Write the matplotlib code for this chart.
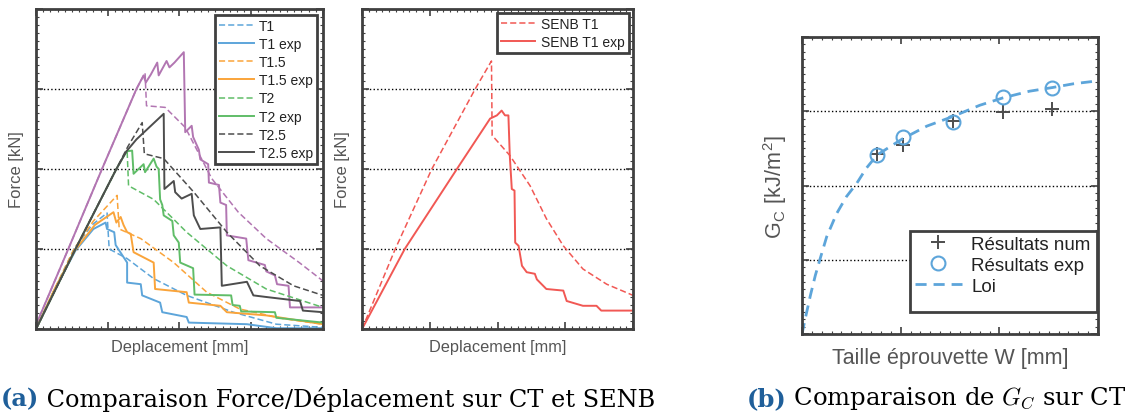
import numpy as np
import matplotlib
matplotlib.use('Agg')
import matplotlib.pyplot as plt
from matplotlib.ticker import MultipleLocator, NullFormatter
from matplotlib.patches import Rectangle

plt.rcParams['font.family'] = ['Liberation Sans', 'DejaVu Sans']
plt.rcParams['mathtext.fontset'] = 'cm'

# ---- panel (a) left: CT specimens, force vs displacement (arbitrary units, no tick labels)
t1_x = [0, 0.26, 0.53, 0.78, 0.99, 1.02, 1.27, 1.64, 2.10, 2.75, 3.35, 4.0]
t1_y = [0, 0.50, 1.00, 1.30, 1.45, 1.00, 0.88, 0.63, 0.42, 0.21, 0.06, 0.02]
t1e_x = [0, 0.26, 0.55, 0.80, 0.97, 0.99, 1.09, 1.11, 1.27, 1.27, 1.46, 1.48, 1.73, 1.76, 2.10, 2.13,
         2.94, 3.35, 4.0]
t1e_y = [0, 0.49, 0.98, 1.25, 1.33, 1.25, 1.21, 1.05, 0.83, 0.58, 0.56, 0.42, 0.33, 0.21, 0.15, 0.08,
         0.06, 0.01, 0.01]

t15_x = [0, 0.26, 0.53, 0.80, 1.13, 1.16, 1.46, 1.92, 2.38, 2.84, 3.44, 4.0]
t15_y = [0, 0.50, 1.00, 1.35, 1.67, 1.25, 1.13, 0.83, 0.46, 0.25, 0.13, 0.06]
t15e_x = [0, 0.26, 0.54, 0.82, 1.08, 1.12, 1.18, 1.22, 1.27, 1.32, 1.36, 1.64, 1.66, 2.10, 2.13,
          2.57, 2.66, 3.21, 4.0]
t15e_y = [0, 0.50, 0.98, 1.30, 1.46, 1.33, 1.40, 1.30, 1.21, 1.19, 0.96, 0.83, 0.50, 0.46, 0.33,
          0.29, 0.21, 0.17, 0.06]

t2_x = [0, 0.55, 1.12, 1.27, 1.29, 1.64, 2.10, 2.66, 3.21, 4.0]
t2_y = [0, 1.00, 2.00, 2.23, 1.79, 1.62, 1.21, 0.79, 0.50, 0.27]
t2e_x = [0, 0.55, 1.12, 1.26, 1.34, 1.36, 1.50, 1.52, 1.64, 1.68, 1.71, 1.73, 1.76, 1.78, 1.90, 1.92,
         1.99, 2.01, 2.19, 2.21, 2.72, 2.74, 2.84, 2.86, 3.33, 3.35, 4.0]
t2e_y = [0, 1.00, 2.00, 2.22, 2.23, 1.94, 2.06, 1.96, 2.13, 2.03, 2.00, 1.62, 1.55, 1.42, 1.35, 1.17,
         1.08, 0.83, 0.76, 0.43, 0.42, 0.30, 0.29, 0.22, 0.21, 0.14, 0.08]

t25_x = [0, 0.55, 1.12, 1.28, 1.48, 1.51, 1.78, 2.20, 2.66, 3.12, 3.59, 4.0]
t25_y = [0, 1.00, 2.00, 2.28, 2.58, 2.19, 2.13, 1.71, 1.21, 0.79, 0.54, 0.42]
t25e_x = [0, 0.55, 1.12, 1.26, 1.40, 1.78, 1.79, 1.92, 1.94, 2.03, 2.17, 2.20, 2.29, 2.57, 2.59,
          2.94, 3.03, 3.21, 3.68, 3.72, 4.0]
t25e_y = [0, 1.00, 2.00, 2.22, 2.37, 2.69, 1.75, 1.85, 1.71, 1.63, 1.69, 1.42, 1.25, 1.27, 0.54,
          0.59, 0.42, 0.40, 0.35, 0.23, 0.21]

t3_x = [0, 0.45, 0.92, 1.40, 1.52, 1.54, 1.80, 2.08, 2.45, 2.82, 3.21, 3.67, 4.0]
t3_y = [0.05, 1.00, 2.00, 3.00, 3.20, 2.79, 2.77, 2.52, 1.88, 1.46, 1.13, 0.83, 0.60]
t3e_x = [0, 0.45, 0.92, 1.40, 1.50, 1.53, 1.60, 1.69, 1.71, 1.82, 1.86, 1.93, 2.06, 2.08, 2.17,
         2.19, 2.27, 2.29, 2.40, 2.41, 2.55, 2.57, 2.65, 2.66, 2.93, 2.96, 3.19, 3.21, 3.33, 3.36,
         3.52, 3.54, 4.0]
t3e_y = [0.05, 1.00, 2.00, 3.00, 3.17, 3.08, 3.18, 3.33, 3.17, 3.35, 3.27, 3.33, 3.46, 2.46, 2.54,
         2.40, 2.24, 2.12, 2.06, 1.83, 1.80, 1.58, 1.55, 1.17, 1.13, 0.86, 0.80, 0.72, 0.67, 0.56,
         0.54, 0.27, 0.27]

# ---- panel (a) right: SENB T1
senb_x = [0, 0.49, 1.03, 1.67, 1.91, 1.92, 2.18, 2.48, 2.72, 2.97, 3.26, 3.61, 4.0]
senb_y = [0, 1.00, 2.00, 3.00, 3.35, 2.42, 2.17, 1.79, 1.38, 1.04, 0.75, 0.56, 0.42]
senbe_x = [0, 0.63, 1.40, 1.89, 1.99, 2.06, 2.11, 2.16, 2.18, 2.21, 2.25, 2.26, 2.31, 2.36, 2.43,
           2.55, 2.58, 2.72, 2.97, 3.02, 3.26, 3.46, 3.53, 4.0]
senbe_y = [0, 1.00, 2.00, 2.63, 2.67, 2.73, 2.67, 2.67, 2.17, 1.75, 1.73, 1.08, 1.04, 0.79, 0.71,
           0.69, 0.62, 0.50, 0.48, 0.35, 0.29, 0.29, 0.23, 0.23]

# ---- panel (b): Gc vs specimen size
W = [15.2, 20.4, 30.6, 40.7, 50.6]
gc_num = [2.42, 2.55, 2.87, 2.99, 3.03]
gc_exp = [2.41, 2.65, 2.86, 3.19, 3.31]
loi_w = [0, 0.7, 1.7, 2.7, 3.7, 5.0, 7.0, 9.0, 11.1, 13.0, 15.2, 18.0, 20.4, 25.3, 30.6, 36.0,
         40.7, 46.1, 50.8, 55.0, 60.0]
loi_gc = [0, 0.22, 0.52, 0.79, 1.02, 1.31, 1.62, 1.85, 2.03, 2.23, 2.41, 2.53, 2.63, 2.80, 2.93,
          3.08, 3.18, 3.27, 3.32, 3.37, 3.41]

BLUE = '#5DA5DA'
ORANGE = '#FAA43A'
GREEN = '#60BD68'
GREY = '#4D4D4D'
PURPLE = '#B276B2'
RED = '#F15854'
FRAME = '#404040'
LABEL = '#555555'
DASH = (0, (4, 2))


def style_axes(ax, xmax, ymax, xmajor, xminor, yminor):
    ax.set_xlim(0, xmax)
    ax.set_ylim(0, ymax)
    ax.xaxis.set_major_locator(MultipleLocator(xmajor))
    ax.xaxis.set_minor_locator(MultipleLocator(xminor))
    ax.yaxis.set_major_locator(MultipleLocator(1))
    ax.yaxis.set_minor_locator(MultipleLocator(yminor))
    ax.xaxis.set_major_formatter(NullFormatter())
    ax.yaxis.set_major_formatter(NullFormatter())
    ax.tick_params(which='both', direction='in', top=True, right=True, color=FRAME)
    ax.tick_params(which='major', length=5, width=1.2)
    ax.tick_params(which='minor', length=2.5, width=0.8)
    ax.yaxis.grid(True, linestyle=':', color='black', linewidth=1.0)
    for s in ax.spines.values():
        s.set_linewidth(2.0)
        s.set_color(FRAME)


def style_legend(leg):
    fr = leg.get_frame()
    fr.set_edgecolor(FRAME)
    fr.set_linewidth(2.0)
    fr.set_alpha(1)
    for t in leg.get_texts():
        t.set_color('#222222')


fig = plt.figure(figsize=(11.36, 4.14), dpi=100)

# ---- CT
ax1 = fig.add_axes([0.0317, 0.2029, 0.2526, 0.773])
ax1.plot(t3_x, t3_y, color=PURPLE, lw=1.1, linestyle=DASH)
ax1.plot(t3e_x, t3e_y, color=PURPLE, lw=1.4)
ax1.plot(t1_x, t1_y, color=BLUE, lw=1.1, linestyle=DASH, label='T1')
ax1.plot(t1e_x, t1e_y, color=BLUE, lw=1.4, label='T1 exp')
ax1.plot(t15_x, t15_y, color=ORANGE, lw=1.1, linestyle=DASH, label='T1.5')
ax1.plot(t15e_x, t15e_y, color=ORANGE, lw=1.4, label='T1.5 exp')
ax1.plot(t2_x, t2_y, color=GREEN, lw=1.1, linestyle=DASH, label='T2')
ax1.plot(t2e_x, t2e_y, color=GREEN, lw=1.4, label='T2 exp')
ax1.plot(t25_x, t25_y, color=GREY, lw=1.1, linestyle=DASH, label='T2.5')
ax1.plot(t25e_x, t25e_y, color=GREY, lw=1.4, label='T2.5 exp')
style_axes(ax1, 4, 4, 1, 0.1, 0.1)
ax1.set_ylabel('Force [kN]', color=LABEL, fontsize=12, labelpad=5)
ax1.set_xlabel('Deplacement [mm]', color=LABEL, fontsize=11.8, labelpad=4)
leg1 = ax1.legend(loc='upper right', fontsize=10, fancybox=False, handlelength=2.5,
                  handletextpad=0.4, labelspacing=0.3, borderpad=0.3, borderaxespad=0.4)
style_legend(leg1)

# ---- SENB
ax2 = fig.add_axes([0.3187, 0.2029, 0.2386, 0.773])
ax2.plot(senb_x, senb_y, color=RED, lw=1.1, linestyle=DASH, label='SENB T1')
ax2.plot(senbe_x, senbe_y, color=RED, lw=1.4, label='SENB T1 exp')
style_axes(ax2, 4, 4, 1, 0.1, 0.1)
ax2.set_ylabel('Force [kN]', color=LABEL, fontsize=12, labelpad=5)
ax2.set_xlabel('Deplacement [mm]', color=LABEL, fontsize=11.8, labelpad=4)
leg2 = ax2.legend(loc='upper right', fontsize=10, fancybox=False, handlelength=2.5,
                  handletextpad=0.4, labelspacing=0.25, borderpad=0.3, borderaxespad=0.3)
style_legend(leg2)

# ---- Gc
ax3 = fig.add_axes([0.706, 0.1908, 0.2606, 0.7174])
ax3.plot(W, gc_num, linestyle='none', marker='+', markersize=10, mew=1.4, color=GREY,
         label='Résultats num')
ax3.plot(W, gc_exp, linestyle='none', marker='o', markersize=10, mew=1.5, mfc='none',
         color=BLUE, label='Résultats exp')
ax3.plot(loi_w, loi_gc, color=BLUE, lw=2.0, linestyle=(0, (4, 2.5)), label='Loi')
style_axes(ax3, 60, 4, 20, 2, 0.1)
ax3.set_ylabel(r'G$_\mathregular{C}$ [kJ/m$^\mathregular{2}$]', color=LABEL, fontsize=15.5, labelpad=6)
ax3.set_xlabel('Taille éprouvette W [mm]', color=LABEL, fontsize=15.5, labelpad=6)
# legend text runs past its frame in the original, so the frame is drawn separately
leg3 = ax3.legend(loc='upper left', bbox_to_anchor=(0.365, 0.347), fontsize=13.5, frameon=False,
                  handlelength=2.5, handletextpad=0.5, labelspacing=0.2, borderpad=0.25,
                  borderaxespad=0.0)
for t in leg3.get_texts():
    t.set_color('#222222')
leg3.set_zorder(6)
ax3.add_patch(Rectangle((0.365, 0.074), 0.632, 0.273, transform=ax3.transAxes, facecolor='white',
                        edgecolor=FRAME, lw=2.0, zorder=5, clip_on=False))

# ---- captions
serif = ['DejaVu Serif']
ta = fig.text(0.001, 0.018, '(a)', fontsize=17.3, fontweight='bold', color='#1F5F9A', family=serif)
ax1.annotate(' Comparaison Force/Déplacement sur CT et SENB', xy=(1, 0), xycoords=ta,
             va='bottom', fontsize=17.3, family=serif, annotation_clip=False)
tb = fig.text(0.657, 0.018, '(b)', fontsize=17.5, fontweight='bold', color='#1F5F9A', family=serif)
ax3.annotate(r' Comparaison de $G_C$ sur CT', xy=(1, 0), xycoords=tb,
             va='bottom', fontsize=17.5, family=serif, annotation_clip=False)

fig.savefig('out.png', dpi=100)
